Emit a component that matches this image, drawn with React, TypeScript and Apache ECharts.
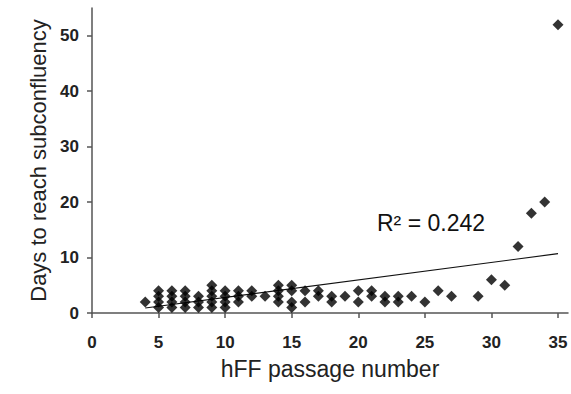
import React, { useEffect, useRef } from "react";
import * as echarts from "echarts";

// hFF passage number for each observation
const passage = [
  4,
  5, 5, 5, 5,
  6, 6, 6, 6,
  7, 7, 7, 7,
  8, 8, 8,
  9, 9, 9, 9, 9,
  10, 10, 10, 10,
  11, 11, 11,
  12, 12,
  13,
  14, 14, 14, 14,
  15, 15, 15, 15,
  16, 16,
  17, 17,
  18, 18,
  19,
  20, 20,
  21, 21,
  22, 22,
  23, 23,
  24,
  25,
  26,
  27,
  29,
  30,
  31,
  32,
  33,
  34,
  35,
];
// days to reach subconfluency for each observation
const days = [
  2,
  1, 2, 3, 4,
  1, 2, 3, 4,
  1, 2, 3, 4,
  1, 2, 3,
  1, 2, 3, 4, 5,
  1, 2, 3, 4,
  2, 3, 4,
  3, 4,
  3,
  2, 3, 4, 5,
  1, 2, 4, 5,
  2, 4,
  3, 4,
  2, 3,
  3,
  2, 4,
  3, 4,
  2, 3,
  2, 3,
  3,
  2,
  4,
  3,
  3,
  6,
  5,
  12,
  18,
  20,
  52,
];
// linear trendline endpoints
const trendX = [4, 35];
const trendY = [0.9, 10.7];
const xTicks = [0, 5, 10, 15, 20, 25, 30, 35];
const yTicks = [0, 10, 20, 30, 40, 50];
const rSquaredLabel = "R\u00b2 = 0.242";

const FONT = "'Liberation Sans', Arial, Helvetica, sans-serif";

export default function App() {
  const ref = useRef<HTMLDivElement>(null);
  useEffect(() => {
    if (!ref.current) return;
    const chart = echarts.init(ref.current, undefined, { renderer: "svg" });
    const points = passage.map((p, i) => [p, days[i]]);
    const trend = trendX.map((x, i) => [x, trendY[i]]);
    const axisColor = "#555";
    chart.setOption({
      animation: false,
      backgroundColor: "#fff",
      grid: { left: 92, right: 3, top: 8, bottom: 81, containLabel: false },
      xAxis: {
        type: "value",
        min: 0,
        max: 35.75,
        interval: 5,
        name: "hFF passage number",
        nameLocation: "middle",
        nameGap: 44,
        nameTextStyle: { fontFamily: FONT, fontSize: 23, color: "#222" },
        axisLine: { show: true, onZero: false, lineStyle: { color: axisColor, width: 1.5 } },
        axisTick: { show: true, length: 5, inside: false, customValues: xTicks, lineStyle: { color: axisColor, width: 1.5 } },
        axisLabel: {
          customValues: xTicks,
          margin: 21,
          fontFamily: FONT,
          fontSize: 17,
          fontWeight: "bold",
          color: "#222",
          formatter: (v: number) => (v % 5 === 0 ? String(v) : ""),
        },
        splitLine: { show: false },
      },
      yAxis: {
        type: "value",
        min: 0,
        max: 55,
        interval: 10,
        name: "Days to reach subconfluency",
        nameLocation: "middle",
        nameGap: 42,
        nameTextStyle: { fontFamily: FONT, fontSize: 22, color: "#222" },
        axisLine: { show: true, lineStyle: { color: axisColor, width: 1.5 } },
        axisTick: { show: true, length: 5, inside: false, customValues: yTicks, lineStyle: { color: axisColor, width: 1.5 } },
        axisLabel: {
          customValues: yTicks,
          margin: 13,
          fontFamily: FONT,
          fontSize: 17,
          fontWeight: "bold",
          color: "#222",
          formatter: (v: number) => (v % 10 === 0 ? String(v) : ""),
        },
        splitLine: { show: false },
      },
      series: [
        {
          type: "line",
          data: trend,
          symbol: "none",
          lineStyle: { color: "#111", width: 1.2 },
          silent: true,
          z: 1,
        },
        {
          type: "scatter",
          data: points,
          symbol: "diamond",
          symbolSize: 11,
          itemStyle: { color: "#000" },
          z: 2,
        },
      ],
      graphic: [
        {
          type: "text",
          left: 377,
          top: 211,
          style: {
            text: rSquaredLabel,
            fontFamily: FONT,
            fontSize: 23,
            fill: "#111",
          },
        },
      ],
    });
    return () => chart.dispose();
  }, []);
  return (
    <div
      ref={ref}
      style={{ position: "fixed", left: 0, top: 0, width: 571, height: 394, background: "#fff" }}
    />
  );
}
